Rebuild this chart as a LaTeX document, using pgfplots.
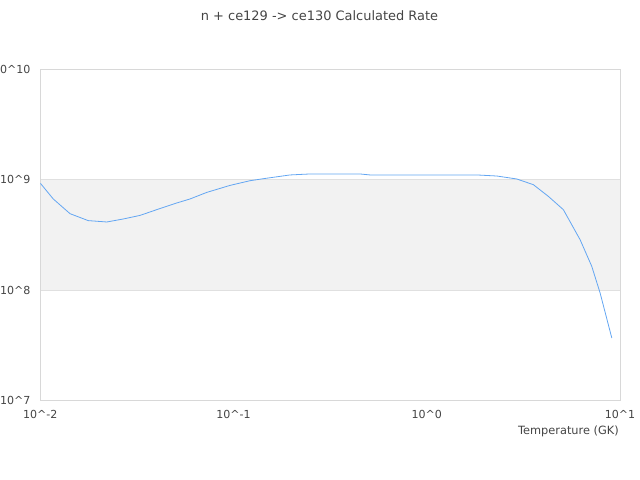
\documentclass[border=0pt]{standalone}
\usepackage{pgfplots}
\pgfplotsset{compat=1.18}
\usepackage{pgfplotstable}
\usepackage{fontspec}
\setmainfont{DejaVu Sans}
\definecolor{txt}{RGB}{68,68,68}
\definecolor{bord}{RGB}{216,216,216}
\definecolor{gridc}{RGB}{224,224,224}
\definecolor{band}{RGB}{242,242,242}
\definecolor{line}{RGB}{99,166,242}
\pgfplotstableread{
x y
0.0100 9.3e8
0.01167 6.69e8
0.01426 4.92e8
0.01770 4.26e8
0.02208 4.14e8
0.02692 4.41e8
0.03283 4.75e8
0.04000 5.35e8
0.05078 6.15e8
0.05953 6.69e8
0.07263 7.67e8
0.0959 8.88e8
0.1217 9.79e8
0.1426 1.021e9
0.1960 1.104e9
0.2488 1.127e9
0.4517 1.127e9
0.5087 1.104e9
1.815 1.104e9
2.303 1.080e9
2.923 1.015e9
3.563 9.01e8
4.26 7.06e8
5.093 5.35e8
6.217 2.86e8
7.145 1.64e8
7.89 9.42e7
9.07 3.68e7
}\rates
\begin{document}
\begin{tikzpicture}
\begin{axis}[
  at={(0,0)}, anchor=south west,
  scale only axis,
  width=579.7bp, height=331.2bp,
  xmode=log, ymode=log,
  xmin=0.01, xmax=10, ymin=1e7, ymax=1e10,
  xtick={0.01,0.1,1,10},
  xticklabels={10\textasciicircum-2,10\textasciicircum-1,10\textasciicircum0,10\textasciicircum1},
  ytick={1e7,1e8,1e9,1e10},
  yticklabels={10\textasciicircum7,10\textasciicircum8,10\textasciicircum9,10\textasciicircum10},
  minor tick num=0,
  major tick length=0pt,
  xminorticks=false, yminorticks=false,
  ymajorgrids=true,
  major grid style={color=gridc, line width=0.8bp},
  axis line style={color=bord, line width=0.8bp},
  set layers,
  tick label style={font=\fontsize{11.1}{12}\selectfont, text=txt},
  xticklabel style={anchor=base, inner sep=0pt, yshift=-17.8bp},
  yticklabel style={anchor=east, inner sep=0pt, xshift=-9.6bp},
  xlabel={Temperature (GK)},
  xlabel style={at={(rel axis cs:1,0)}, anchor=base east, inner sep=0pt, yshift=-33.5bp, xshift=-1bp, font=\fontsize{11.4}{13}\selectfont, text=txt},
]
\begin{pgfonlayer}{axis background}
\fill[band] (axis cs:0.01,1e8) rectangle (axis cs:10,1e9);
\end{pgfonlayer}
\addplot[color=line, line width=0.8bp, no marks] table[x=x,y=y] {\rates};
\end{axis}
\node[anchor=base, inner sep=0pt, text=txt, font=\fontsize{13.0}{15}\selectfont] at (279.2bp,379.8bp) {n + ce129 -> ce130 Calculated Rate};
\pgfresetboundingbox
\path[use as bounding box] (-40.3bp,-79.5bp) rectangle (599.7bp,400.5bp);
\end{tikzpicture}
\end{document}
